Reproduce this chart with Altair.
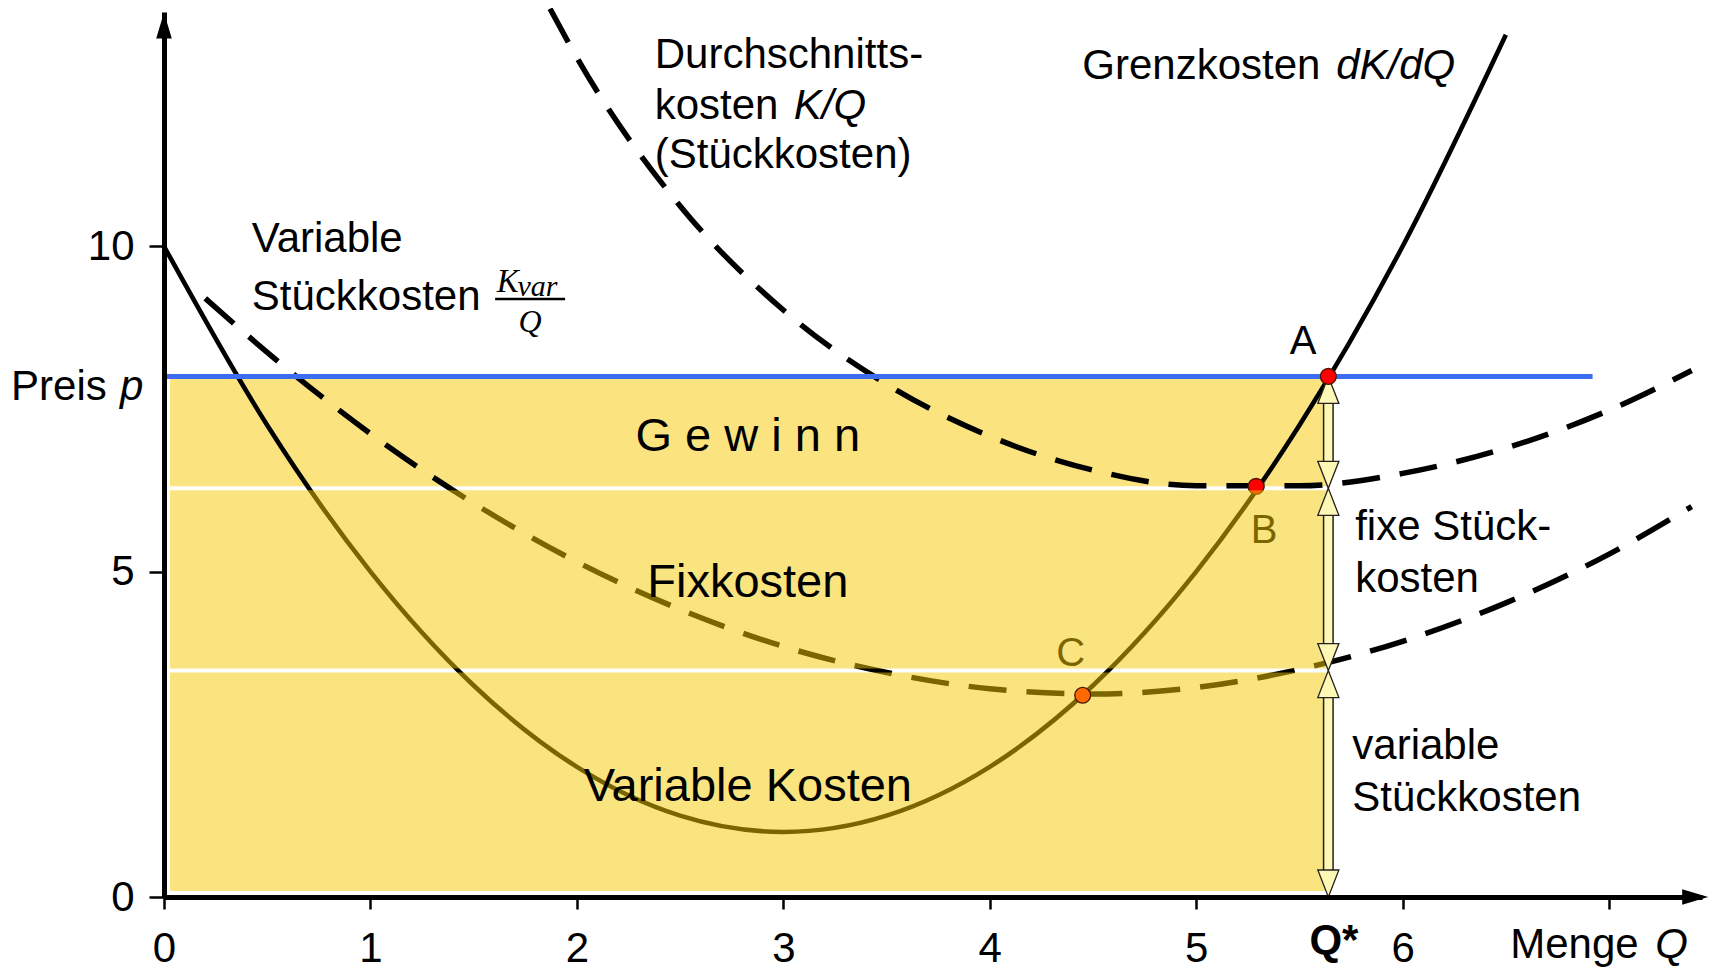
import altair as alt
import pandas as pd

# ---------------- values ----------------
mc_q = [0, 0.5, 1, 1.5, 2, 2.5, 3, 3.5, 4, 4.5, 5, 5.5, 6, 6.5]
mc_k = [10, 7.25, 5, 3.25, 2, 1.25, 1, 1.25, 2, 3.25, 5, 7.25, 10, 13.25]

avc_q = [0.2, 0.5, 1, 1.5, 2, 2.5, 3, 3.5, 4, 4.5, 5, 5.5, 6, 6.5, 7, 7.4]
avc_k = [9.2, 8.37, 7.12, 6.05, 5.15, 4.42, 3.85, 3.45, 3.2, 3.12, 3.22, 3.5, 3.93, 4.52, 5.27, 6.0]

ac_q = [1.87, 2, 2.5, 3, 3.5, 4, 4.5, 5, 5.5, 6, 6.5, 7, 7.4]
ac_k = [13.65, 12.9, 10.62, 9.02, 7.88, 7.08, 6.56, 6.32, 6.32, 6.51, 6.9, 7.48, 8.09]

price = 8.0
price_end = 6.92
q_star = 5.64
ac_star = 6.28
avc_star = 3.48

pt_names = ["A", "B", "C"]
pt_q = [5.64, 5.29, 4.45]
pt_k = [8.0, 6.31, 3.10]

x_ticks = [0, 1, 2, 3, 4, 5, 6, 7]
y_ticks = [0, 5, 10]

# ---------------- scales / axes ----------------
FONT = "Liberation Sans"
xs = alt.Scale(domain=[0, 7.45], nice=False, zero=False)
ys = alt.Scale(domain=[0, 13.6], nice=False, zero=False)
xaxis = alt.Axis(values=x_ticks, labelExpr="datum.value == 7 ? '' : datum.label",
                 title=None, grid=False, domainColor="black", domainWidth=5,
                 tickColor="black", tickWidth=2.5, tickSize=12, labelFontSize=42,
                 labelFont=FONT, labelColor="black", labelPadding=19,
                 labelFlush=False, labelOverlap=False, zindex=1)
yaxis = alt.Axis(values=y_ticks, title=None, grid=False, domainColor="black",
                 domainWidth=5, tickColor="black", tickWidth=2.5, tickSize=15,
                 labelFontSize=42, labelFont=FONT, labelColor="black",
                 labelPadding=15, labelFlush=False, labelOverlap=False, zindex=1)


def X(f):
    return alt.X(f, type="quantitative", scale=xs, axis=xaxis)


def Y(f):
    return alt.Y(f, type="quantitative", scale=ys, axis=yaxis)


def frame(d):
    return pd.DataFrame(d)


# ---------------- regions ----------------
gewinn = alt.Chart(frame({"x0": [0], "x1": [q_star], "y0": [ac_star], "y1": [price]})).mark_rect(
    color="#FBE480", xOffset=6, yOffset=-2).encode(x=X("x0"), x2="x1", y=Y("y0"), y2="y1")

fix_rect = alt.Chart(frame({"x0": [0], "x1": [q_star], "y0": [avc_star], "y1": [ac_star]})).mark_rect(
    color="#F6CA00", opacity=0.5, xOffset=6, yOffset=-2, y2Offset=2).encode(
    x=X("x0"), x2="x1", y=Y("y0"), y2="y1")

var_rect = alt.Chart(frame({"x0": [0], "x1": [q_star], "y0": [0], "y1": [avc_star]})).mark_rect(
    color="#F6CA00", opacity=0.5, xOffset=6, yOffset=-6, y2Offset=2).encode(
    x=X("x0"), x2="x1", y=Y("y0"), y2="y1")

# ---------------- curves ----------------
mc_line = alt.Chart(frame({"q": mc_q, "k": mc_k})).mark_line(
    color="black", strokeWidth=4.6, interpolate="monotone").encode(x=X("q"), y=Y("k"))
avc_line = alt.Chart(frame({"q": avc_q, "k": avc_k})).mark_line(
    color="black", strokeWidth=5.5, strokeDash=[38, 20], interpolate="monotone").encode(x=X("q"), y=Y("k"))
ac_line = alt.Chart(frame({"q": ac_q, "k": ac_k})).mark_line(
    color="black", strokeWidth=5.5, strokeDash=[38, 20], interpolate="monotone").encode(x=X("q"), y=Y("k"))

price_line = alt.Chart(frame({"x0": [0], "x1": [price_end], "y": [price]})).mark_rule(
    color="#3B6CF2", strokeWidth=5).encode(x=X("x0"), x2="x1", y=Y("y"))

pts = frame({"n": pt_names, "q": pt_q, "k": pt_k,
             "c": ["#FF0000", "#FF0000", "#FF6A00"]})


def points(names):
    return alt.Chart(pts[pts["n"].isin(names)]).mark_point(
        shape="circle", filled=True, size=250, stroke="#4a1500", strokeWidth=1.3, opacity=1).encode(
        x=X("q"), y=Y("k"), fill=alt.Fill("c:N", scale=None))


# ---------------- double arrows at Q* ----------------
segs = frame({"x": [q_star] * 3, "lo": [ac_star, avc_star, 0], "hi": [price, ac_star, avc_star]})
shaft_out = alt.Chart(segs).mark_rule(color="#222222", strokeWidth=11, yOffset=26, y2Offset=-26).encode(
    x=X("x"), y=Y("hi"), y2="lo")
shaft_in = alt.Chart(segs).mark_rule(color="#FFF8B4", strokeWidth=8, yOffset=26, y2Offset=-26).encode(
    x=X("x"), y=Y("hi"), y2="lo")
UP = "M0,0 L0.78,2 L-0.78,2 Z"
DOWN = "M0,0 L0.78,-2 L-0.78,-2 Z"
head_up = alt.Chart(segs).mark_point(shape=UP, size=729, filled=True, fill="#FFF8B4",
                                     stroke="#222222", strokeWidth=1.3, opacity=1).encode(
    x=X("x"), y=Y("hi"))
head_dn = alt.Chart(segs).mark_point(shape=DOWN, size=729, filled=True, fill="#FFF8B4",
                                     stroke="#222222", strokeWidth=1.3, opacity=1).encode(
    x=X("x"), y=Y("lo"))

# ---------------- axis arrow heads ----------------
ax_right = alt.Chart(frame({"x": [7.48], "y": [0]})).mark_point(
    shape="M0,0 L-2,-0.6 L-2,0.6 Z", size=676, filled=True, fill="black", opacity=1).encode(x=X("x"), y=Y("y"))
ax_up = alt.Chart(frame({"x": [0], "y": [13.594]})).mark_point(
    shape="M0,0 L-0.6,2 L0.6,2 Z", size=676, filled=True, fill="black", opacity=1).encode(x=X("x"), y=Y("y"))


# ---------------- texts ----------------
def txt(rows, **kw):
    df = pd.DataFrame(rows, columns=["t", "x", "y"])
    opts = dict(font=FONT, fontSize=42, color="black", baseline="alphabetic", align="left")
    opts.update(kw)
    return alt.Chart(df).mark_text(**opts).encode(x=X("x"), y=Y("y"), text="t:N")


t_normal = txt([
    ["Durchschnitts-", 2.377, 12.742],
    ["kosten", 2.377, 11.951],
    ["(Stückkosten)", 2.377, 11.198],
    ["Grenzkosten", 4.448, 12.573],
    ["Variable", 0.425, 9.912],
    ["Stückkosten", 0.425, 9.017],
    ["fixe Stück-", 5.770, 5.484],
    ["kosten", 5.770, 4.685],
    ["variable", 5.756, 2.120],
    ["Stückkosten", 5.756, 1.321],
    ["Preis", -0.741, 7.634],
    ["Menge", 6.521, -0.93],
])
t_italic = txt([
    ["K/Q", 3.051, 11.951],
    ["dK/dQ", 5.678, 12.573],
    ["p", -0.213, 7.634],
    ["Q", 7.224, -0.93],
], fontStyle="italic")
t_qstar = txt([["Q*", 5.667, -0.87]], fontWeight="bold", align="center")
t_a = txt([["A", 5.518, 8.341]], fontSize=40, align="center")
t_bc = txt([["B", 5.329, 5.444], ["C", 4.392, 3.548]], fontSize=40, align="center")
t_regions = txt([
    ["G e w i n n", 2.828, 6.851],
    ["Fixkosten", 2.828, 4.608],
    ["Variable Kosten", 2.828, 1.482],
], fontSize=47, align="center")

# fraction K_var / Q
SERIF = "Liberation Serif"
t_k = txt([["K", 1.612, 9.30]], font=SERIF, fontStyle="italic", fontSize=33)
t_var = txt([["var", 1.712, 9.23]], font=SERIF, fontStyle="italic", fontSize=30)
t_q = txt([["Q", 1.773, 8.68]], font=SERIF, fontStyle="italic", fontSize=32, align="center")
frac_bar = alt.Chart(frame({"x0": [1.604], "x1": [1.943], "y": [9.19]})).mark_rule(
    color="black", strokeWidth=2.5).encode(x=X("x0"), x2="x1", y=Y("y"))

chart = alt.layer(
    gewinn, mc_line, avc_line, ac_line, points(["B"]), t_bc,
    fix_rect, var_rect, price_line,
    shaft_out, shaft_in, head_up, head_dn,
    points(["A", "C"]),
    t_normal, t_italic, t_qstar, t_a, t_regions, t_k, t_var, t_q, frac_bar,
    ax_right, ax_up,
).properties(
    width=1538, height=885,
    autosize=alt.AutoSizeParams(type="none"),
    padding={"left": 156, "top": 4, "right": 7, "bottom": 76},
    background="white",
).configure_view(stroke=None)

chart.save("out.html", embed_options={"renderer": "svg", "actions": False})
